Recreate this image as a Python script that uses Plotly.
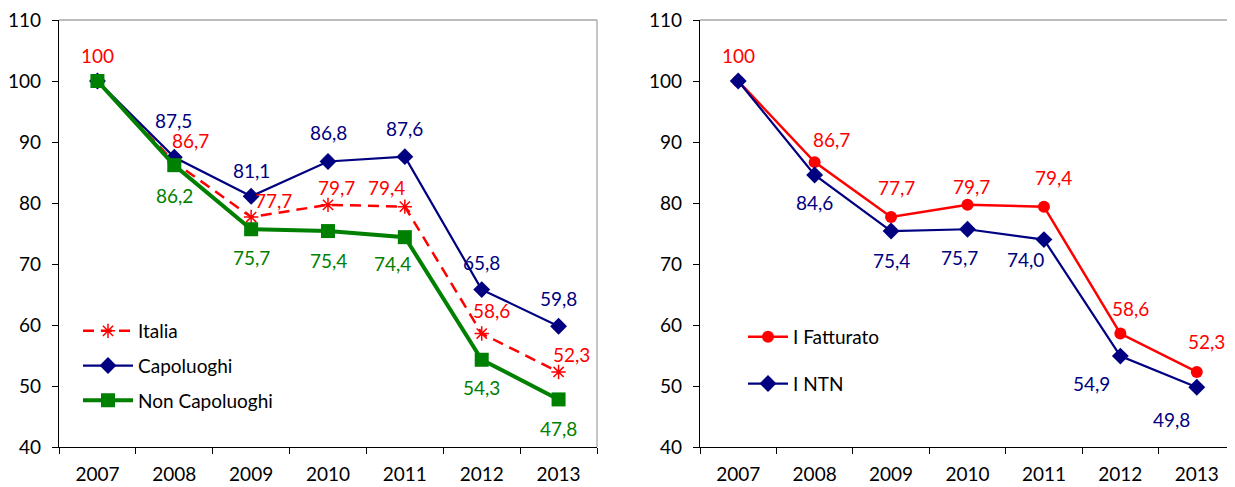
import plotly.graph_objects as go

years = ["2007", "2008", "2009", "2010", "2011", "2012", "2013"]

italia = [100, 86.7, 77.7, 79.7, 79.4, 58.6, 52.3]
capoluoghi = [100, 87.5, 81.1, 86.8, 87.6, 65.8, 59.8]
non_capoluoghi = [100, 86.2, 75.7, 75.4, 74.4, 54.3, 47.8]

fatturato = [100, 86.7, 77.7, 79.7, 79.4, 58.6, 52.3]
ntn = [100, 84.6, 75.4, 75.7, 74.0, 54.9, 49.8]

RED = "#FF0000"
NAVY = "#000080"
GREEN = "#008000"
FONT = "Lato"
FS = 19

# the page body has an 8px margin, so the figure is sized to the remaining area
W, H, PAD = 1227, 479, 8


def fx(px):
    return (px - PAD) / W


def fy(py):
    return 1 - (py - PAD) / H


# label offsets (px) per point: (dx, dy) where dy>0 moves up; None = no label
OFF_ITALIA = [(0, 26), (16, 22), (22, 17), (8, 17), (-18, 19), (10, 23), (13, 17)]
OFF_CAPO = [None, (-1, 37), (0, 26), (0, 29), (0, 28), (0, 27), (0, 28)]
OFF_NONCAPO = [None, (0, -30), (0, -28), (0, -29), (-12, -26), (0, -28), (0, -29)]
OFF_FATT = [(0, 26), (17, 23), (5, 30), (4, 18), (10, 29), (10, 25), (10, 30)]
OFF_NTN = [None, (0, -28), (0, -29), (-8, -28), (-18, -20), (-29, -27), (-25, -32)]


def fmt(v):
    return f"{v:.1f}".replace(".", ",") if v != 100 else "100"


fig = go.Figure()

fig.add_trace(go.Scatter(
    x=years, y=italia, name="Italia", mode="lines+markers",
    line=dict(color=RED, width=2.5, dash="11px,7px"),
    marker=dict(symbol="asterisk-open", size=12, color=RED, line=dict(color=RED, width=1.5)),
    xaxis="x", yaxis="y", legend="legend", legendgroup="a",
))
fig.add_trace(go.Scatter(
    x=years, y=capoluoghi, name="Capoluoghi", mode="lines+markers",
    line=dict(color=NAVY, width=2.2),
    marker=dict(symbol="diamond", size=13, color=NAVY),
    xaxis="x", yaxis="y", legend="legend", legendgroup="b",
))
fig.add_trace(go.Scatter(
    x=years, y=non_capoluoghi, name="Non Capoluoghi", mode="lines+markers",
    line=dict(color=GREEN, width=4),
    marker=dict(symbol="square", size=14, color=GREEN),
    xaxis="x", yaxis="y", legend="legend", legendgroup="c",
))
fig.add_trace(go.Scatter(
    x=years, y=fatturato, name="I Fatturato", mode="lines+markers",
    line=dict(color=RED, width=2.5),
    marker=dict(symbol="circle", size=12, color=RED),
    xaxis="x2", yaxis="y2", legend="legend2", legendgroup="d",
))
fig.add_trace(go.Scatter(
    x=years, y=ntn, name="I NTN", mode="lines+markers",
    line=dict(color=NAVY, width=2.2),
    marker=dict(symbol="diamond", size=13, color=NAVY),
    xaxis="x2", yaxis="y2", legend="legend2", legendgroup="e",
))

annotations = []
for vals, offs, color, xr, yr in [
    (italia, OFF_ITALIA, RED, "x", "y"),
    (capoluoghi, OFF_CAPO, NAVY, "x", "y"),
    (non_capoluoghi, OFF_NONCAPO, GREEN, "x", "y"),
    (fatturato, OFF_FATT, RED, "x2", "y2"),
    (ntn, OFF_NTN, NAVY, "x2", "y2"),
]:
    for i, (v, o) in enumerate(zip(vals, offs)):
        if o is None:
            continue
        annotations.append(dict(
            x=i, y=v, xref=xr, yref=yr, text=fmt(v), showarrow=False,
            xshift=o[0], yshift=o[1], font=dict(color=color, size=FS, family=FONT),
        ))

XD1 = [fx(59), fx(597)]
XD2 = [fx(700), 1.0]
YD = [fy(447), fy(20)]

axis_x = dict(
    type="category", range=[-0.5, 6.5], showline=True, linecolor="black", linewidth=1.3,
    ticks="outside", tickson="boundaries", ticklen=6, tickcolor="black", automargin=False,
    ticklabelstandoff=10, ticklabeloverflow="allow",
    showgrid=False, zeroline=False, tickfont=dict(size=FS, family=FONT, color="black"),
)
axis_y = dict(
    range=[40, 110], dtick=10, showline=True, linecolor="black", linewidth=1.3,
    ticks="outside", ticklen=6, tickcolor="black", showgrid=False, zeroline=False,
    automargin=False, ticklabelstandoff=7, ticklabeloverflow="allow",
    tickfont=dict(size=FS, family=FONT, color="black"),
)

shapes = []
for xr, yr in [("x", "y"), ("x2", "y2")]:
    shapes.append(dict(type="line", xref=f"{xr} domain", yref=f"{yr} domain",
                       x0=0, x1=1, y0=1, y1=1, line=dict(color="#A6A6A6", width=1.3)))
    shapes.append(dict(type="line", xref=f"{xr} domain", yref=f"{yr} domain",
                       x0=1, x1=1, y0=0, y1=1, line=dict(color="#A6A6A6", width=1.3)))

fig.update_layout(
    template="none",
    width=W, height=H,
    margin=dict(l=0, r=0, t=0, b=0, autoexpand=False),
    paper_bgcolor="white", plot_bgcolor="white",
    font=dict(family=FONT, size=FS, color="black"),
    xaxis=dict(axis_x, domain=XD1, anchor="y"),
    yaxis=dict(axis_y, domain=YD, anchor="x"),
    xaxis2=dict(axis_x, domain=XD2, anchor="y2"),
    yaxis2=dict(axis_y, domain=YD, anchor="x2"),
    legend=dict(x=fx(78), y=fy(312), xanchor="left", yanchor="top",
                bgcolor="rgba(0,0,0,0)", itemwidth=50, tracegroupgap=7,
                font=dict(size=FS, family=FONT, color="black")),
    legend2=dict(x=fx(743), y=fy(318), xanchor="left", yanchor="top",
                 bgcolor="rgba(0,0,0,0)", itemwidth=40, tracegroupgap=19,
                 font=dict(size=FS, family=FONT, color="black")),
    annotations=annotations,
    shapes=shapes,
    showlegend=True,
)

fig.write_html("out.html")
